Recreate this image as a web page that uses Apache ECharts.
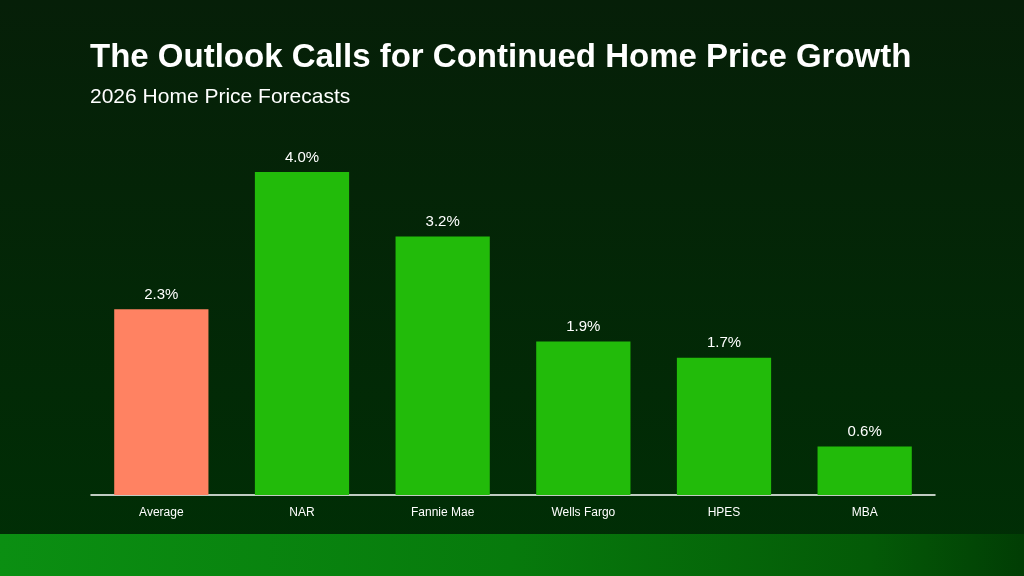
<!DOCTYPE html>
<html><head><meta charset="utf-8">
<script src="https://cdn.jsdelivr.net/npm/echarts@6/dist/echarts.min.js"></script>
<style>html,body{margin:0;padding:0;width:1024px;height:576px;overflow:hidden}#c{width:1024px;height:576px}</style>
</head><body><div id="c"></div>
<script>
const categories = ['Average', 'NAR', 'Fannie Mae', 'Wells Fargo', 'HPES', 'MBA'];
const values = [2.3, 4.0, 3.2, 1.9, 1.7, 0.6];
const barColors = ['#ff8262', '#22bb0a', '#22bb0a', '#22bb0a', '#22bb0a', '#22bb0a'];

const chart = echarts.init(document.getElementById('c'));
chart.setOption({
  backgroundColor: new echarts.graphic.LinearGradient(0, 0, 0, 1, [
    {offset: 0, color: '#061f08'}, {offset: 1, color: '#002f05'}
  ]),
  textStyle: {fontFamily: 'Liberation Sans, Arial, sans-serif'},
  title: [
    {text: 'The Outlook Calls for Continued Home Price Growth', left: 90, top: 41, padding: 0,
     textStyle: {color: '#ffffff', fontSize: 33, fontWeight: 'bold', fontFamily: 'Liberation Sans, Arial'}},
    {text: '2026 Home Price Forecasts', left: 90, top: 87, padding: 0,
     textStyle: {color: '#ffffff', fontSize: 21, fontWeight: 'normal', fontFamily: 'Liberation Sans, Arial'}}
  ],
  graphic: [{
    type: 'rect', left: 0, top: 534, shape: {width: 1024, height: 42},
    style: {fill: new echarts.graphic.LinearGradient(0, 0, 1, 1, [
      {offset: 0, color: '#0b8f12'}, {offset: 0.5, color: '#077a0c'}, {offset: 0.85, color: '#045a07'}, {offset: 1, color: '#013d04'}
    ])}, z: -1
  }],
  grid: {left: 91, right: 89, top: 172, bottom: 81},
  xAxis: {
    type: 'category', data: categories,
    axisLine: {lineStyle: {color: '#ffffff', width: 1.5}},
    axisTick: {show: false},
    axisLabel: {color: '#ffffff', fontSize: 12, margin: 12}
  },
  yAxis: {type: 'value', min: 0, max: 4, show: false, splitLine: {show: false}},
  series: [{
    type: 'bar', barCategoryGap: '33%',
    data: values.map((v, i) => ({value: v, itemStyle: {color: barColors[i]}})),
    label: {show: true, position: 'top', distance: 7, color: '#ffffff', fontSize: 15,
      formatter: p => p.value.toFixed(1) + '%'}
  }]
});
</script></body></html>
